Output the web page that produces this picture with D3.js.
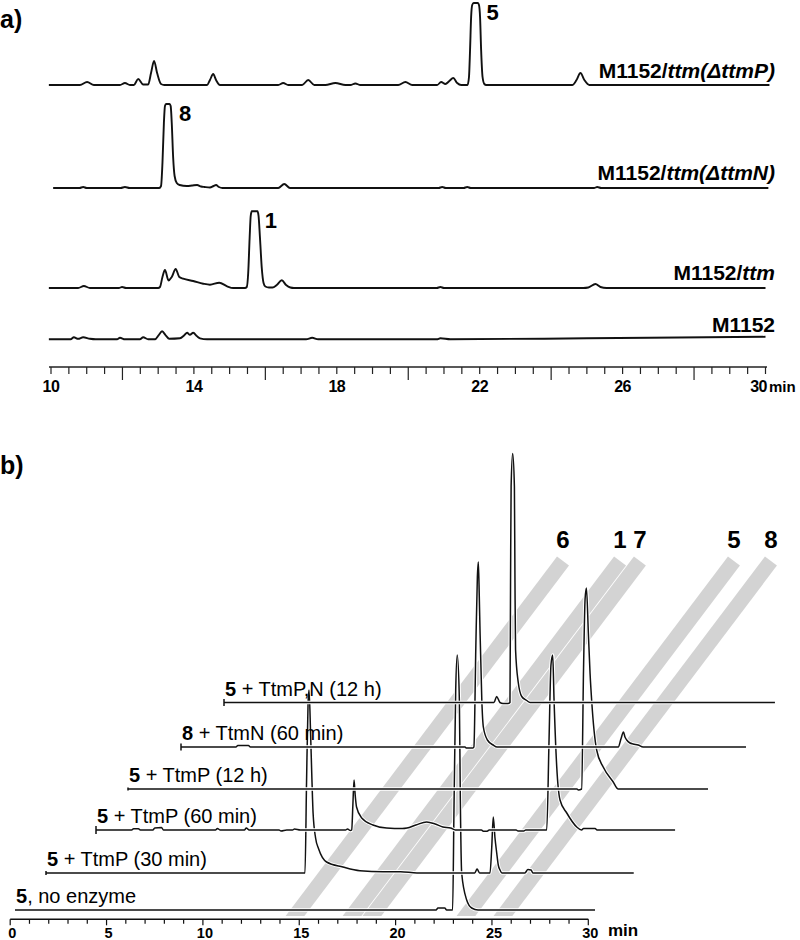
<!DOCTYPE html>
<html>
<head>
<meta charset="utf-8">
<script src="https://cdn.jsdelivr.net/npm/d3@7"></script>
<style>
  body { margin: 0; background: #fff; }
  svg { display: block; }
  text { font-family: "Liberation Sans", Arial, sans-serif; fill: #000; }
</style>
</head>
<body>
<svg id="chart" width="800" height="940"></svg>
<script>
// ================= DATA =================
// ---- Panel a: retention time (min) vs. relative absorbance ----
const aTickLabels = [10, 14, 18, 22, 26, 30];
const aNames = [["M1152/", "ttm(ΔttmP)"], ["M1152/", "ttm(ΔttmN)"], ["M1152/", "ttm"], ["M1152", ""]];
const aPeakNames = ["5", "8", "1", null];

const aTraceP = [[9.94,0],[10.81,0],[11.01,3],[11.2,0],[11.93,0],[12.07,2],[12.21,0],[12.32,0],[12.44,6],[12.58,0.5],[12.72,0.5],[12.8,12],[12.885,24],[12.97,12],[13.08,1],[13.17,0],[14.37,0],[14.45,5],[14.54,11],[14.62,5],[14.73,0],[16.36,0],[16.5,2],[16.64,0],[17.03,0],[17.2,5],[17.37,0],[17.68,0],[17.96,2],[18.24,0],[18.38,0],[18.52,1.5],[18.66,0],[19.72,0],[19.92,3],[20.11,0],[20.81,0],[20.92,3],[21.04,1],[21.15,4],[21.26,7],[21.37,2],[21.48,0],[21.66,0],[21.7,8],[21.73,35],[21.76,68],[21.79,80],[21.83,82],[21.95,82],[21.98,80],[22.01,68],[22.04,35],[22.08,8],[22.13,1],[22.18,0],[24.59,0],[24.71,5],[24.82,12],[24.93,5],[25.07,0],[30.11,0]];
const aTraceN = [[10.06,0],[10.8,0],[10.9,1],[11.0,0],[11.95,0],[12.07,1],[12.2,0],[13.03,0],[13.08,2],[13.12,25],[13.16,65],[13.19,82],[13.22,84],[13.32,84],[13.35,82],[13.38,65],[13.42,30],[13.46,12],[13.52,5],[13.6,3],[13.8,2],[13.95,2.5],[14.09,3],[14.2,1.5],[14.3,1],[14.45,0.5],[14.55,2],[14.62,3],[14.7,1],[14.8,0],[16.36,0],[16.53,4],[16.69,0],[20.85,0],[20.95,1],[21.05,0],[21.55,0],[21.65,1],[21.75,0],[25.2,0],[25.29,1],[25.4,0],[30.08,0]];
const aTraceTtm = [[9.94,0],[10.76,0],[10.92,2],[11.09,0],[11.9,0],[11.99,1],[12.1,0],[13.0,0],[13.05,1],[13.12,11],[13.19,18],[13.29,7.5],[13.38,11],[13.49,19],[13.59,11],[13.7,9.3],[13.98,7],[14.26,4.3],[14.45,3.3],[14.71,5.3],[14.93,1.7],[15.1,0],[15.43,0],[15.48,1],[15.52,15],[15.56,50],[15.59,72],[15.62,76.7],[15.78,76.7],[15.81,72],[15.85,50],[15.9,20],[15.95,5],[16.0,1.5],[16.1,0.5],[16.2,0.5],[16.32,3],[16.46,7.7],[16.58,3],[16.7,0.5],[16.8,0],[20.8,0],[20.9,1],[21.0,0],[24.9,0],[25.04,0.5],[25.24,4],[25.38,1],[25.55,0],[30.0,0]];
const aTraceM = [[9.94,0],[10.55,0],[10.64,2],[10.76,0.5],[10.9,2],[11.09,0.5],[11.25,0],[11.85,0],[11.93,1.5],[12.07,0],[12.49,0],[12.58,2],[12.72,0],[12.91,0],[13.01,4],[13.11,8],[13.21,4],[13.31,0.5],[13.61,1],[13.73,4],[13.81,6.5],[13.89,4.5],[13.98,6.5],[14.09,3],[14.17,1],[14.37,0],[17.14,0],[17.31,1.5],[17.48,0],[20.8,0],[20.9,1],[21.18,0],[25.0,1],[30.0,2.5]];
const aSeries = [aTraceP, aTraceN, aTraceTtm, aTraceM];

// ---- Panel b: retention time (min) vs. relative absorbance, stacked ----
const bTickLabels = [0, 5, 10, 15, 20, 25, 30];
const bNames = [["5", ", no enzyme"], ["5", " + TtmP (30 min)"], ["5", " + TtmP (60 min)"], ["5", " + TtmP (12 h)"], ["8", " + TtmN (60 min)"], ["5", " + TtmP,N (12 h)"]];
const bNoEnzyme = [[0,0],[21.85,0],[21.95,2],[22.3,2],[22.4,0],[22.71,0],[22.78,100],[22.87,220],[22.95,255],[23.06,210],[23.11,110],[23.18,37],[23.44,10],[23.7,2],[24.03,0],[30.1,0]];
const bTtmP30 = [[0,0],[13.44,0],[13.52,90],[13.6,170],[13.65,183],[13.73,140],[13.79,100],[13.86,60],[13.99,35],[14.15,24],[14.56,11],[15.41,6],[16.29,2.3],[17.5,1.3],[18.4,1.3],[19.25,0],[22.25,0],[22.37,4],[22.5,0],[23.04,0],[23.13,25],[23.21,56],[23.3,35],[23.39,20],[23.47,8],[23.56,3],[23.66,0],[24.85,0],[25.01,3.5],[25.17,3],[25.27,0],[30.5,0]];
const bTtmP60 = [[0,0],[1.85,0],[1.95,1.2],[2.2,1.2],[2.3,0],[2.95,0],[3.05,2],[3.4,2.5],[3.5,0],[6.2,0],[6.3,1.5],[6.45,0],[7.7,0],[7.8,2],[7.95,0],[9.5,0],[9.6,-1],[9.9,0],[10.2,0],[10.3,1],[10.6,0],[12.95,0],[13.05,1],[13.2,-0.5],[13.27,0],[13.33,25],[13.39,50],[13.45,35],[13.52,23],[13.79,12],[14.37,5],[15.08,2],[15.9,1.5],[16.14,2],[16.6,5],[17.16,8],[17.6,6],[18.0,3],[18.4,2],[18.65,0],[20.0,0],[20.1,-1.2],[20.3,-1.2],[20.4,0],[21.8,0],[21.9,-1],[22.2,-1],[22.3,0],[23.39,0],[23.51,90],[23.61,165],[23.7,175],[23.77,130],[23.91,63],[24.08,30],[24.43,17],[24.95,3],[25.2,0],[25.3,1.5],[25.9,1.5],[26.0,0],[30.05,0]];
const bTtmP12h = [[0,0],[23.3,0],[23.37,-1],[23.54,0],[23.64,120],[23.72,190],[23.79,201],[23.89,156],[23.98,115],[24.06,89],[24.32,39],[24.66,22],[25.18,7],[25.44,0],[30.1,0]];
const bTtmN60 = [[0,0],[2.85,0],[2.95,1.5],[3.5,1.5],[3.6,0],[14.74,0],[14.8,-1],[15.15,-1],[15.2,0],[15.3,100],[15.38,170],[15.43,185],[15.48,150],[15.52,114],[15.61,47],[15.69,20],[15.9,7],[16.2,2],[16.4,0],[22.69,0],[22.83,8],[22.96,15],[23.04,10],[23.13,7],[23.3,4],[23.46,3],[23.72,2],[23.98,0],[29.32,0]];
const bTtmPN12h = [[0,0],[14.01,0],[14.15,6],[14.32,0],[14.48,-1],[14.74,-1],[14.84,0],[14.87,120],[14.9,216],[14.98,249],[15.07,216],[15.1,120],[15.13,53],[15.27,20],[15.45,6],[15.71,2],[15.88,0],[28.59,0]];
const bSeries = [bNoEnzyme, bTtmP30, bTtmP60, bTtmP12h, bTtmN60, bTtmPN12h];

// compound bands: label and retention time where each band meets the bottom axis
const bandLabels = ["6", "1", "7", "5", "8"];
const bandTimes = [14.78, 17.74, 18.77, 23.65, 25.57];

// ================= LAYOUT =================
const svg = d3.select("#chart");
const aBase = [85, 188, 288, 339.3];
const aAxisY = 367;
const bBase = [910, 873, 830, 789, 747, 702.5];
const bStartX = [15, 46, 96, 128, 181, 224];
const bStartTick = [0, 4, 8, 3, 7, 7];
const bAxisY = 919.3;
const bandShift = [268, -355];
const bandTopY = 561, bandBottomY = 916;

// ================= PANEL A =================
const xA = d3.scaleLinear().domain([10, 30]).range([51, 765.5]);
const hA = d3.scaleLinear().domain([0, 1]).range([0, 1]);

svg.append("text").attr("x", 0).attr("y", 28).attr("font-size", 25).attr("font-weight", "bold").text("a)");

const gA = svg.append("g");
aSeries.forEach((s, i) => {
  const line = d3.line()
    .x(d => xA(d[0]))
    .y(d => aBase[i] - hA(d[1]))
    .curve(d3.curveMonotoneX);
  gA.append("path").attr("d", line(s)).attr("fill", "none")
    .attr("stroke", "#111").attr("stroke-width", 1.9).attr("stroke-linejoin", "round");
  // peak label
  if (aPeakNames[i]) {
    const top = s.reduce((m, d) => d[1] > m[1] ? d : m, s[0]);
    gA.append("text").attr("x", xA(top[0]) + 19).attr("y", aBase[i] - hA(top[1]) + 17)
      .attr("text-anchor", "middle").attr("font-size", 22).attr("font-weight", "bold").text(aPeakNames[i]);
  }
});
// trace names
const aNameY = [78, 180, 280, 332];
aNames.forEach((n, i) => {
  const t = gA.append("text").attr("x", 775).attr("y", aNameY[i]).attr("text-anchor", "end")
    .attr("font-size", 21).attr("font-weight", "bold");
  t.append("tspan").text(n[0]);
  if (n[1]) t.append("tspan").attr("font-style", "italic").text(n[1]);
});

// axis a
const axA = svg.append("g");
axA.append("line").attr("x1", 49).attr("x2", 767).attr("y1", aAxisY).attr("y2", aAxisY)
  .attr("stroke", "#222").attr("stroke-width", 1.3);
d3.range(10, 30.01, 0.5).forEach(v => {
  const isLong = (v % 2 === 0) && !aTickLabels.includes(v);
  axA.append("line").attr("x1", xA(v)).attr("x2", xA(v)).attr("y1", aAxisY).attr("y2", aAxisY + (isLong ? 13 : 7))
    .attr("stroke", "#222").attr("stroke-width", 1.2);
});
aTickLabels.forEach(v => {
  const last = v === 30;
  axA.append("text").attr("x", last ? 767 : xA(v)).attr("y", 392)
    .attr("text-anchor", last ? "end" : "middle").attr("font-size", 16).attr("font-weight", "bold")
    .attr("letter-spacing", -0.5).text(v);
});
axA.append("text").attr("x", 769).attr("y", 392).attr("font-size", 15).attr("font-weight", "bold").text("min");

// ================= PANEL B =================
const xB = d3.scaleLinear().domain([0, 30]).range([10.2, 588.3]);
const hB = d3.scaleLinear().domain([0, 1]).range([0, 1]);

svg.append("text").attr("x", 0).attr("y", 474).attr("font-size", 25).attr("font-weight", "bold").text("b)");

// bands
const defs = svg.append("defs");
defs.append("clipPath").attr("id", "bandClip").append("rect")
  .attr("x", 0).attr("y", 0).attr("width", 800).attr("height", bandBottomY);
const gBand = svg.append("g").attr("clip-path", "url(#bandClip)");
bandTimes.forEach((t, i) => {
  const xb = xB(t);
  const k = bandShift[0] / -bandShift[1];
  const x0 = xb - k * 20, y0 = bandBottomY + 20;
  const x1 = xb + bandShift[0], y1 = bandTopY;
  gBand.append("line").attr("x1", x0).attr("y1", y0).attr("x2", x1).attr("y2", y1)
    .attr("stroke", "#d3d3d3").attr("stroke-width", 15).attr("stroke-linecap", "butt");
  svg.append("text").attr("x", x1).attr("y", bandTopY - 13).attr("text-anchor", "middle")
    .attr("font-size", 24).attr("font-weight", "bold").text(bandLabels[i]);
});

// traces
const gB = svg.append("g");
bSeries.forEach((s, i) => {
  const dx = bStartX[i] - xB(0);
  const line = d3.line()
    .x(d => xB(d[0]) + dx)
    .y(d => bBase[i] - hB(d[1]))
    .curve(d3.curveMonotoneX);
  // thin white underlay to cut bands along the baseline
  gB.append("path").attr("d", line(s)).attr("fill", "none").attr("stroke", "#fff").attr("stroke-width", 3.5);
  gB.append("path").attr("d", line(s)).attr("fill", "none")
    .attr("stroke", "#111").attr("stroke-width", 1.5).attr("stroke-linejoin", "round");
  if (bStartTick[i] > 0) {
    gB.append("line").attr("x1", bStartX[i]).attr("x2", bStartX[i])
      .attr("y1", bBase[i] - bStartTick[i] / 2).attr("y2", bBase[i] + bStartTick[i] / 2)
      .attr("stroke", "#111").attr("stroke-width", 1.5);
  }
  const t = gB.append("text").attr("x", bStartX[i] + 1).attr("y", bBase[i] - 7).attr("font-size", 20);
  t.append("tspan").attr("font-weight", "bold").text(bNames[i][0]);
  t.append("tspan").text(bNames[i][1]);
});

// axis b
const axB = svg.append("g");
axB.append("line").attr("x1", xB(0)).attr("x2", xB(30)).attr("y1", bAxisY).attr("y2", bAxisY)
  .attr("stroke", "#111").attr("stroke-width", 1.5);
d3.range(0, 31, 1).forEach(v => {
  axB.append("line").attr("x1", xB(v)).attr("x2", xB(v)).attr("y1", bAxisY).attr("y2", bAxisY + (v % 5 === 0 ? 6 : 4.5))
    .attr("stroke", "#111").attr("stroke-width", 1.2);
});
bTickLabels.forEach(v => {
  axB.append("text").attr("x", xB(v) + 2).attr("y", 938).attr("text-anchor", "middle")
    .attr("font-size", 14.5).attr("font-weight", "bold").text(v);
});
axB.append("text").attr("x", 608).attr("y", 936).attr("font-size", 17).attr("font-weight", "bold").text("min");
</script>
</body>
</html>
